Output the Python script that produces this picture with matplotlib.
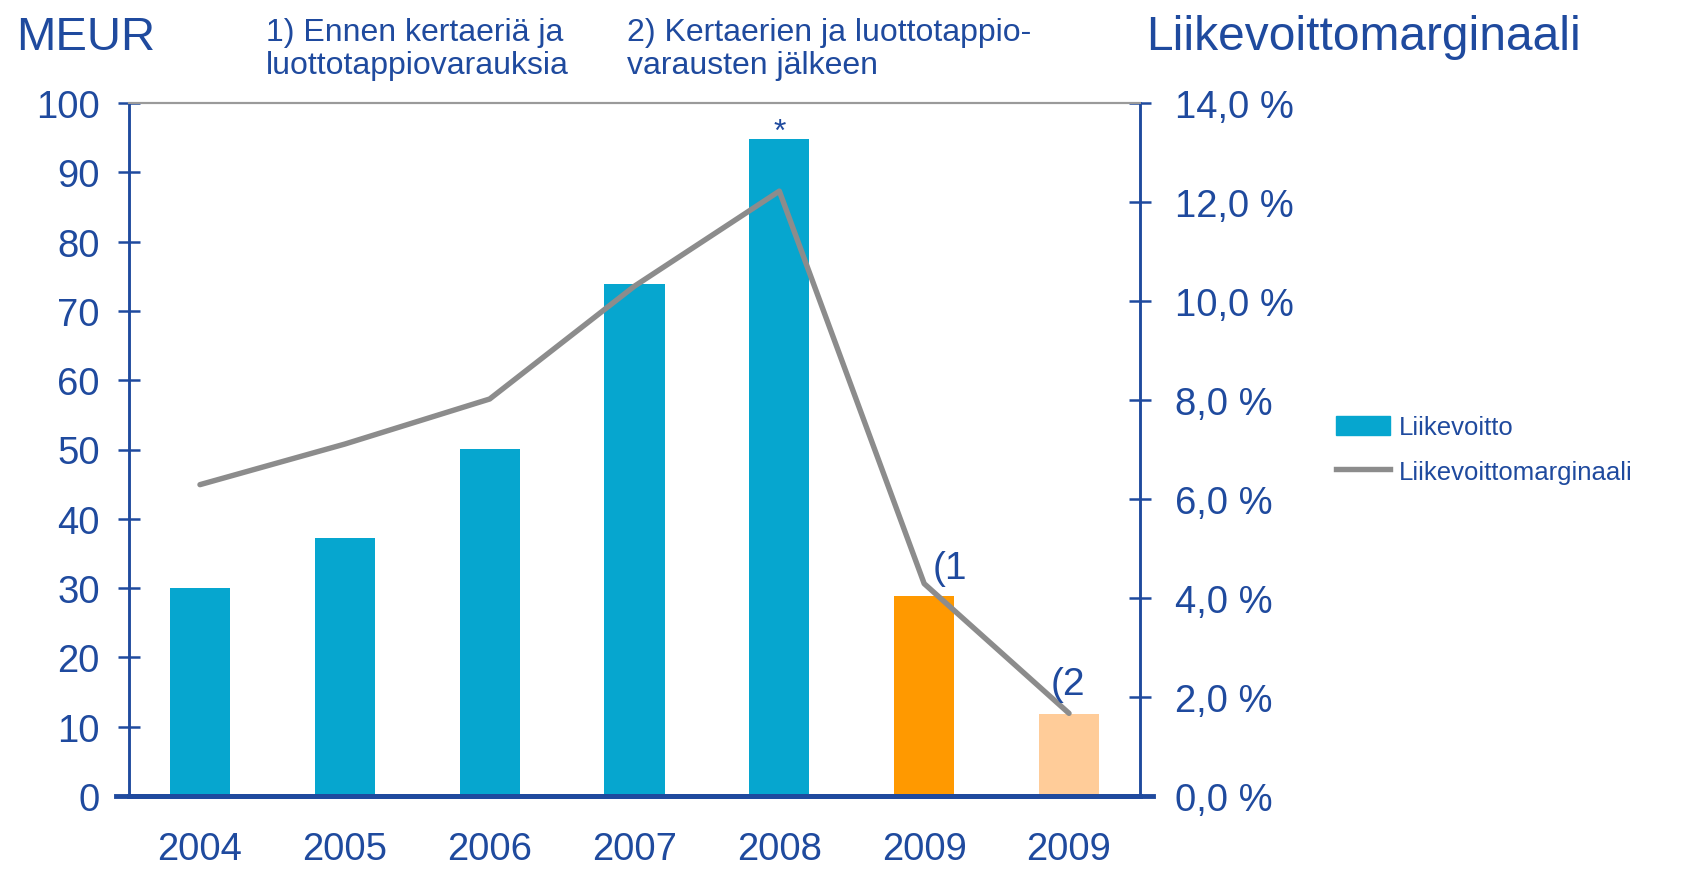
import matplotlib
matplotlib.use('Agg')
import matplotlib.pyplot as plt
import numpy as np
from matplotlib.patches import Patch
from matplotlib.lines import Line2D

# Tiedot
vuodet = ['2004', '2005', '2006', '2007', '2008', '2009', '2009']
liikevoitto = [30.0, 37.3, 50.1, 73.9, 94.8, 28.9, 11.8]
marginaali = [6.29, 7.11, 8.02, 10.3, 12.22, 4.29, 1.67]
pylvasvarit = ['#06A6CF', '#06A6CF', '#06A6CF', '#06A6CF', '#06A6CF', '#FF9900', '#FFCC99']
merkinnat = ['', '', '', '', '*', '(1', '(2']

sininen = '#1F4A9E'
plt.rcParams['font.family'] = ['Liberation Sans', 'DejaVu Sans']

W, H = 1682, 870
fig = plt.figure(figsize=(W / 100, H / 100), dpi=100)
ax = fig.add_axes([129 / W, 1 - 797 / H, (1140 - 129) / W, (797 - 104) / H])
ax2 = ax.twinx()

x = np.arange(len(vuodet))
ax.bar(x, liikevoitto, width=0.415, color=pylvasvarit, zorder=2)
ax2.plot(x, marginaali, color='#8C8C8C', lw=3.9, solid_capstyle='round', zorder=3)

ax.set_xlim(-0.49, len(vuodet) - 0.51)
ax.set_ylim(0, 100)
ax2.set_ylim(0, 14)
ax.set_yticks(range(0, 101, 10))
ax2.set_yticks(range(0, 15, 2))
ax2.set_yticklabels([f'{v},0 %' for v in range(0, 15, 2)])
ax.set_xticks(x)
ax.set_xticklabels(vuodet)

ax.tick_params(axis='x', length=0, pad=25, labelsize=27.5, labelcolor=sininen)
ax.tick_params(axis='y', direction='inout', length=16, width=1.8, color=sininen,
               pad=13, labelsize=27.5, labelcolor=sininen)
ax2.tick_params(axis='y', direction='inout', length=16, width=1.8, color=sininen,
                pad=17, labelsize=27.5, labelcolor=sininen)

for a in (ax, ax2):
    a.spines['top'].set_color('#9A9A9A')
    a.spines['top'].set_linewidth(1.5)
    a.spines['left'].set_color(sininen)
    a.spines['left'].set_linewidth(1.8)
    a.spines['right'].set_color(sininen)
    a.spines['right'].set_linewidth(1.8)
    a.spines['bottom'].set_color(sininen)
    a.spines['bottom'].set_linewidth(3.5)
ax.spines['bottom'].set_bounds(-0.58, len(vuodet) - 0.42)
ax.spines['bottom'].set_zorder(4)

# merkinnät
ax.text(x[4], liikevoitto[4] + 3.2, merkinnat[4], ha='center', va='top',
        fontsize=23, color=sininen)
ax2.text(x[5] + 0.06, marginaali[5] - 0.05, merkinnat[5], ha='left', va='bottom',
         fontsize=28, color=sininen)
ax2.text(x[6] - 0.13, marginaali[6] + 0.22, merkinnat[6], ha='left', va='bottom',
         fontsize=28, color=sininen)

# otsikot
fig.text(16 / W, 1 - 38 / H, 'MEUR', fontsize=34, color=sininen, va='center', ha='left')
fig.text(1146 / W, 1 - 38 / H, 'Liikevoittomarginaali', fontsize=34.5, color=sininen,
         va='center', ha='left')
fig.text(266 / W, 1 - 18 / H, '1) Ennen kertaeriä ja\nluottotappiovarauksia', fontsize=23,
         color=sininen, va='top', ha='left', linespacing=1.12)
fig.text(627 / W, 1 - 18 / H, '2) Kertaerien ja luottotappio-\nvarausten jälkeen', fontsize=23,
         color=sininen, va='top', ha='left', linespacing=1.12)

# selite
kahvat = [Patch(color='#06A6CF'), Line2D([0], [0], color='#8C8C8C', lw=3.9)]
fig.legend(kahvat, ['Liikevoitto', 'Liikevoittomarginaali'], loc='upper left',
           bbox_to_anchor=(1326 / W, 1 - 406 / H), frameon=False, fontsize=18.5,
           labelcolor=sininen, handlelength=2.1, handleheight=0.8, handletextpad=0.35,
           labelspacing=0.8, borderaxespad=0)

fig.savefig('out.png', dpi=100)
